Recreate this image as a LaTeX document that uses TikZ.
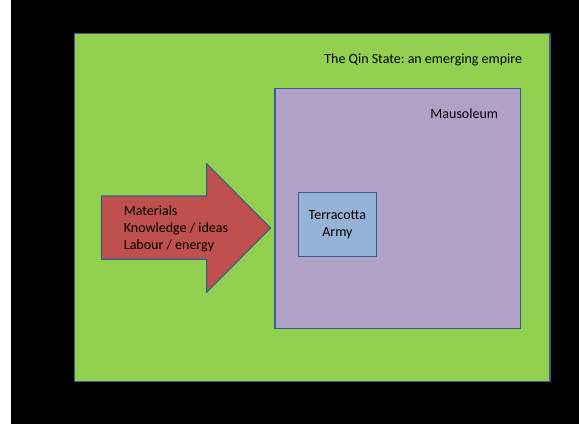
\documentclass[tikz,border=0pt]{standalone}
\usepackage{fontspec}
\setmainfont{Carlito}
\usepackage{xcolor}
\definecolor{stategreen}{RGB}{146,208,80}
\definecolor{tombpurple}{RGB}{178,161,199}
\definecolor{armyblue}{RGB}{149,179,215}
\definecolor{flowred}{RGB}{192,80,77}
\definecolor{edgeblue}{RGB}{56,93,138}
\usepackage{tikz}
\usetikzlibrary{positioning}
\frenchspacing

\begin{document}
\begin{tikzpicture}[x=1pt, y=-1pt, font=\fontsize{14}{17}\selectfont,
  box/.style={draw=edgeblue, line width=1.2pt, inner sep=0pt, rectangle},
  caption/.style={inner sep=0pt, text=black}]
\useasboundingbox (0,0) rectangle (579,424);
\fill[white] (0,0) rectangle (579,424);
\fill[black] (11,0) rectangle (579,424);
% nested areas
\node[box, fill=stategreen, minimum width=475.4pt, minimum height=348.4pt] (state) at (312.3,207.5) {};
\node[box, fill=tombpurple, minimum width=245.5pt, minimum height=239.6pt] (mausoleum) at (397.75,208.5) {};
\node[box, fill=armyblue, minimum width=78.2pt, minimum height=64.7pt, align=center] (army) at (337.4,224.5) {Terracotta\\Army};
\node[caption, anchor=base east] (statelabel) at (522.3,63.5) {The Qin State: an emerging empire};
\node[caption, anchor=base east] (tomblabel) at (498.3,118.3) {Mausoleum};
% inflow arrow
\draw[draw=edgeblue, line width=1.2pt, fill=flowred, line join=miter]
  (101.5,196) -- (206.7,196) -- (206.7,164) -- (270.6,228) -- (206.7,292) -- (206.7,259.3) -- (101.5,259.3) -- cycle;
\node[caption, anchor=west, align=left] (inputs) at (123.7,229) {Materials\\Knowledge / ideas\\Labour / energy};
\end{tikzpicture}
\end{document}
